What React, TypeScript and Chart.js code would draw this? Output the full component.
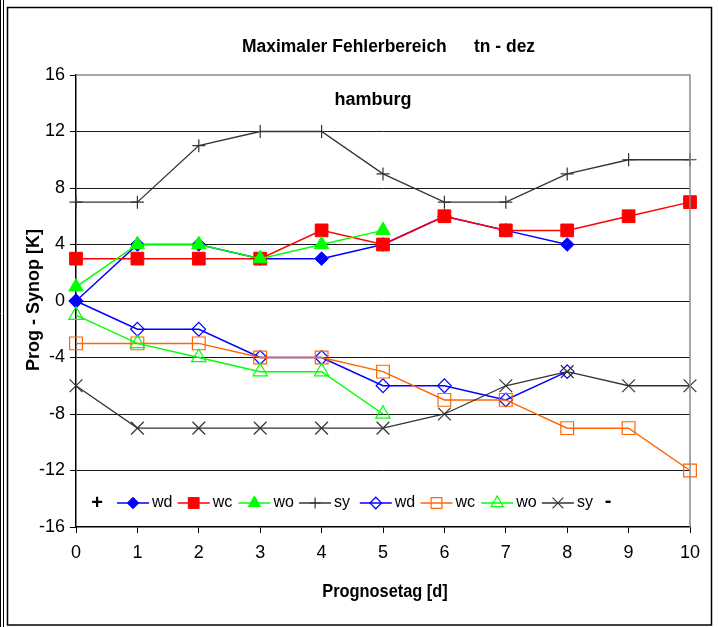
import React, { useEffect, useRef } from 'react';
import { Chart, registerables } from 'chart.js';
import { drawPoint } from 'chart.js/helpers';

Chart.register(...registerables);

const days = [0, 1, 2, 3, 4, 5, 6, 7, 8, 9, 10];
const yTickValues = [-16, -12, -8, -4, 0, 4, 8, 12, 16];
const titleMain = 'Maximaler Fehlerbereich';
const titleSub = 'tn - dez';
const stationText = 'hamburg';
const yTitle = 'Prog - Synop [K]';
const xTitle = 'Prognosetag [d]';

const wdMax = [0, 4, 4, 3, 3, 4, 6, 5, 4];
const wcMax = [3, 3, 3, 3, 5, 4, 6, 5, 5, 6, 7];
const woMax = [1, 4, 4, 3, 4, 5];
const syMax = [7, 7, 11, 12, 12, 9, 7, 7, 9, 10, 10];
const wdMin = [0, -2, -2, -4, -4, -6, -6, -7, -5];
const wcMin = [-3, -3, -3, -4, -4, -5, -7, -7, -9, -9, -12];
const woMin = [-1, -3, -4, -5, -5, -8];
const syMin = [-6, -9, -9, -9, -9, -9, -8, -6, -5, -6, -6];
const seriesLabels = ['wd', 'wc', 'wo', 'sy', 'wd', 'wc', 'wo', 'sy'];

const FONT = '"Liberation Sans", Arial, sans-serif';

type Style = { color: string; style: string; radius: number; fill: string; bw: number; lw: number };
const styles: Style[] = [
  { color: '#0000FF', style: 'rectRot', radius: 6.8, fill: '#0000FF', bw: 1, lw: 1.5 },
  { color: '#FF0000', style: 'rect', radius: 9, fill: '#FF0000', bw: 1, lw: 1.5 },
  { color: '#00FF00', style: 'triangle', radius: 8.3, fill: '#00FF00', bw: 1, lw: 1.5 },
  { color: '#333333', style: 'cross', radius: 6.5, fill: 'rgba(0,0,0,0)', bw: 1.2, lw: 1.3 },
  { color: '#0000FF', style: 'rectRot', radius: 6.8, fill: 'rgba(0,0,0,0)', bw: 1.2, lw: 1.5 },
  { color: '#FF6600', style: 'rect', radius: 9, fill: 'rgba(0,0,0,0)', bw: 1.2, lw: 1.5 },
  { color: '#00FF00', style: 'triangle', radius: 8.3, fill: 'rgba(0,0,0,0)', bw: 1.2, lw: 1.5 },
  { color: '#333333', style: 'crossRot', radius: 9, fill: 'rgba(0,0,0,0)', bw: 1.2, lw: 1.3 },
];
const seriesValues = [wdMax, wcMax, woMax, syMax, wdMin, wcMin, woMin, syMin];

function scaledText(ctx: CanvasRenderingContext2D, text: string, x: number, y: number, sx: number) {
  ctx.save();
  ctx.translate(x, y);
  ctx.scale(sx, 1);
  ctx.fillText(text, 0, 0);
  ctx.restore();
}

const decorPlugin = {
  id: 'decor',
  afterDraw(chart: any) {
    const ctx = chart.ctx as CanvasRenderingContext2D;
    const ca = chart.chartArea;
    ctx.save();
    // outer frames
    ctx.strokeStyle = '#000';
    ctx.lineWidth = 1;
    ctx.beginPath();
    ctx.moveTo(0.5, 0); ctx.lineTo(0.5, 627);
    ctx.moveTo(3.5, 0); ctx.lineTo(3.5, 627);
    ctx.stroke();
    ctx.lineWidth = 1.5;
    ctx.strokeRect(7.5, 7.5, 704, 617.5);
    // plot area top/right border
    ctx.strokeStyle = '#8a8a8a';
    ctx.lineWidth = 1.5;
    ctx.beginPath();
    ctx.moveTo(ca.left, ca.top);
    ctx.lineTo(ca.right, ca.top);
    ctx.lineTo(ca.right, ca.bottom);
    ctx.stroke();

    // titles
    ctx.fillStyle = '#000';
    ctx.textBaseline = 'middle';
    ctx.font = `bold 18px ${FONT}`;
    ctx.textAlign = 'left';
    scaledText(ctx, titleMain, 242, 47, 0.97);
    scaledText(ctx, titleSub, 474, 47, 0.97);
    ctx.textAlign = 'center';
    ctx.fillText(stationText, 373, 100);
    scaledText(ctx, xTitle, 385, 592, 0.91);
    ctx.save();
    ctx.translate(34, 300);
    ctx.rotate(-Math.PI / 2);
    ctx.fillText(yTitle, 0, 0);
    ctx.restore();

    // legend
    const ly = 503;
    ctx.font = `bold 20px ${FONT}`;
    ctx.textAlign = 'center';
    ctx.fillText('+', 97, ly);
    ctx.fillText('-', 608, ly - 2);
    ctx.font = `16px ${FONT}`;
    ctx.textAlign = 'left';
    for (let i = 0; i < seriesLabels.length; i++) {
      const s = styles[i];
      const mx = 133 + i * 60.7;
      ctx.strokeStyle = s.color;
      ctx.lineWidth = s.lw;
      ctx.beginPath();
      ctx.moveTo(mx - 16, ly);
      ctx.lineTo(mx + 16, ly);
      ctx.stroke();
      ctx.fillStyle = s.fill;
      ctx.lineWidth = s.bw;
      drawPoint(ctx, { pointStyle: s.style as any, rotation: 0, radius: s.radius * 0.85, borderWidth: s.bw }, mx, ly);
      ctx.fillStyle = '#000';
      ctx.fillText(seriesLabels[i], mx + 19, ly);
    }
    ctx.restore();
  },
};

export default function App() {
  const ref = useRef<HTMLCanvasElement | null>(null);
  useEffect(() => {
    if (!ref.current) return;
    const datasets = seriesValues.map((vals, i) => {
      const s = styles[i];
      return {
        label: seriesLabels[i],
        data: vals.map((v, j) => ({ x: days[j], y: v })),
        borderColor: s.color,
        borderWidth: s.lw,
        backgroundColor: s.fill,
        pointStyle: s.style,
        pointRadius: s.radius,
        pointBorderWidth: s.bw,
        pointBorderColor: s.color,
        pointBackgroundColor: s.fill,
        tension: 0,
        clip: false as any,
        order: 10 - i,
      };
    });
    const chart = new Chart(ref.current, {
      type: 'line',
      data: { datasets: datasets as any },
      plugins: [decorPlugin],
      options: {
        animation: false,
        responsive: false,
        devicePixelRatio: 1,
        layout: { padding: { top: 75, right: 28, bottom: 0, left: 0 } },
        plugins: { legend: { display: false }, tooltip: { enabled: false }, title: { display: false } },
        scales: {
          x: {
            type: 'linear',
            min: 0,
            max: 10,
            afterFit: (scale: any) => { scale.height = 100; },
            afterBuildTicks: (scale: any) => { scale.ticks = days.map((d) => ({ value: d })); },
            ticks: { stepSize: 1, color: '#000', font: { family: FONT, size: 18 }, padding: 9, maxRotation: 0 },
            grid: { drawOnChartArea: false, drawTicks: true, tickLength: 6, tickColor: '#000' },
            border: { color: '#000', width: 1.5 },
          },
          y: {
            type: 'linear',
            min: -16,
            max: 16,
            afterFit: (scale: any) => { scale.width = 76; },
            afterBuildTicks: (scale: any) => { scale.ticks = yTickValues.map((v) => ({ value: v })); },
            ticks: { color: '#000', font: { family: FONT, size: 18 }, padding: 5 },
            grid: {
              drawTicks: true,
              tickLength: 6,
              tickColor: '#000',
              lineWidth: 1,
              color: (c: any) => (c.tick && Math.abs(c.tick.value) === 16 ? 'rgba(0,0,0,0)' : '#1a1a1a'),
            },
            border: { color: '#000', width: 1.5 },
          },
        },
      },
    });
    return () => chart.destroy();
  }, []);
  return (
    <div style={{ position: 'absolute', left: 0, top: 0, width: 718, height: 627, background: '#fff' }}>
      <canvas ref={ref} width={718} height={627} style={{ display: 'block', width: 718, height: 627 }} />
    </div>
  );
}
